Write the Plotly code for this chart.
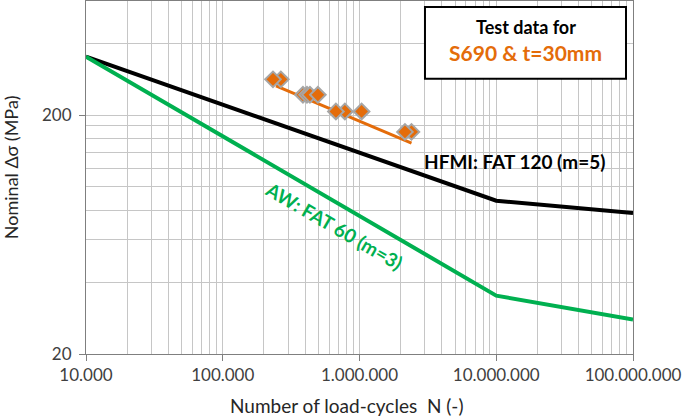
import plotly.graph_objects as go

# S-N reference curves (knees at 1e7 cycles)
curve_N = [1e4, 1e7, 1e8]
hfmi_stress = [351, 87.6, 77.8]
aw_stress = [351, 35.1, 27.9]

# test data S690, t=30mm (listed in drawing order)
test_N = [266e3, 233e3, 386e3, 413e3, 434e3, 496e3, 782e3, 672e3, 1036e3, 2400e3, 2150e3]
test_S = [282, 282, 243, 243, 243, 243, 207, 207, 207, 170, 170]

# regression through the test data
fit_N = [245e3, 2.40e6]
fit_S = [265, 152.7]

x_ticks = [1e4, 1e5, 1e6, 1e7, 1e8]
x_labels = ['10.000', '100.000', '1.000.000', '10.000.000', '100.000.000']
y_ticks = [20, 200]
y_labels = ['20', '200']
x_minor = [k * 10 ** e for e in range(4, 8) for k in range(2, 10)]
y_minor = [40, 60, 80, 100, 120, 140, 160, 180, 400, 600]

ORANGE = '#E46C0A'
GREEN = '#00B050'
GRID = '#C6C6C6'
FONT = 'Lato'

fig = go.Figure()
fig.add_trace(go.Scatter(x=curve_N, y=hfmi_stress, mode='lines',
                         line=dict(color='black', width=4)))
fig.add_trace(go.Scatter(x=curve_N, y=aw_stress, mode='lines',
                         line=dict(color=GREEN, width=4)))
fig.add_trace(go.Scatter(x=fit_N, y=fit_S, mode='lines',
                         line=dict(color=ORANGE, width=3)))
fig.add_trace(go.Scatter(x=test_N, y=test_S, mode='markers',
                         marker=dict(symbol='diamond', size=12, color=ORANGE,
                                     line=dict(color='#A6A6A6', width=2))))

axis_common = dict(type='log', showgrid=True, gridcolor=GRID, gridwidth=1,
                   showline=True, linecolor='#7F7F7F', linewidth=1, mirror=True,
                   ticks='outside', ticklen=6, tickcolor='#7F7F7F',
                   tickfont=dict(family=FONT, size=17, color='#404040'),
                   zeroline=False)

fig.update_xaxes(range=[4, 8], tickvals=x_ticks, ticktext=x_labels,
                 minor=dict(tickvals=x_minor, showgrid=True, gridcolor=GRID, ticks=''),
                 **axis_common)
fig.update_yaxes(range=[1.30103, 2.77815], tickvals=y_ticks, ticktext=y_labels,
                 ticklabelstandoff=4,
                 minor=dict(tickvals=y_minor, showgrid=True, gridcolor=GRID, ticks=''),
                 **axis_common)

# legend box
fig.add_shape(type='rect', xref='paper', yref='paper',
              x0=0.6197, x1=0.9872, y0=0.780, y1=0.983,
              line=dict(color='black', width=2), fillcolor='white', layer='above')

annotations = [
    dict(text='<b>Test data for</b>', x=0.8035, y=0.927, font=dict(size=18, color='black')),
    dict(text='<b>S690 &amp; t=30mm</b>', x=0.8035, y=0.853, font=dict(size=21, color=ORANGE)),
    dict(text='<b>HFMI: FAT 120 (m=5)</b>', x=0.783, y=0.546, font=dict(size=19, color='black')),
    dict(text='<b>AW: FAT 60 (m=3)</b>', x=0.453, y=0.364, textangle=30,
         font=dict(size=19, color=GREEN)),
    # axis titles placed as in the original
    dict(text='Number of load-cycles  N (-)', x=(346.5 - 86) / 547, y=(354.3 - 406) / 353,
         font=dict(size=19, color='#262626')),
    dict(text='Nominal Δσ (MPa)', x=(11 - 86) / 547, y=(354.3 - 167.5) / 353,
         textangle=-90, font=dict(size=18, color='#262626')),
]
for a in annotations:
    fig.add_annotation(xref='paper', yref='paper', showarrow=False,
                       xanchor='center', yanchor='middle', **a)

fig.update_layout(
    width=685, height=418,
    margin=dict(l=86, r=52, t=1, b=64),
    plot_bgcolor='white', paper_bgcolor='white',
    showlegend=False,
    font=dict(family=FONT),
)

# page body has a default 8px margin; drop it so the figure sits at the corner
fig.write_html("out.html", config={'displayModeBar': False},
               post_script="document.body.style.margin='0px';")
